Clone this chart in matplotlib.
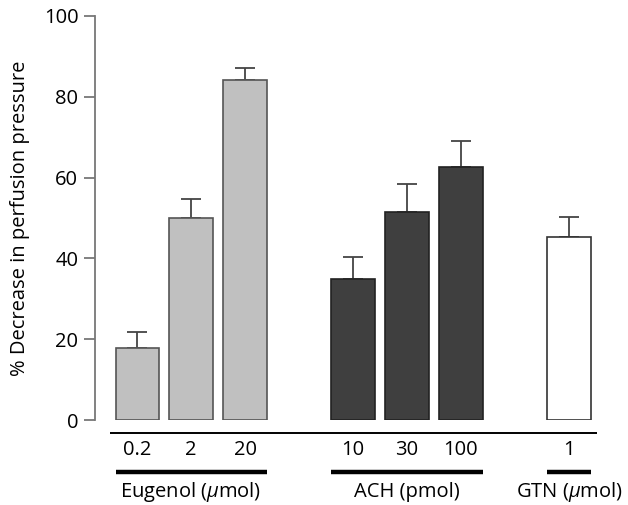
import matplotlib
matplotlib.use("Agg")
import matplotlib.pyplot as plt

plt.rcParams['font.family'] = ['Open Sans', 'DejaVu Sans']
plt.rcParams['mathtext.fontset'] = 'custom'
plt.rcParams['mathtext.it'] = 'Open Sans:italic'
plt.rcParams['mathtext.rm'] = 'Open Sans'

groups = ["Eugenol ($\\mu$mol)", "ACH (pmol)", "GTN ($\\mu$mol)"]
dose_labels = [["0.2", "2", "20"], ["10", "30", "100"], ["1"]]
means = [[17.7, 50.1, 84.2], [34.8, 51.6, 62.7], [45.2]]
sems = [[4.2, 4.5, 3.0], [5.6, 6.8, 6.4], [5.1]]
colors = ["#c0c0c0", "#3f3f3f", "#ffffff"]
edgecolors = ["#555555", "#222222", "#333333"]
positions = [[0, 1, 2], [4, 5, 6], [8]]

FS = 14.5

fig = plt.figure(figsize=(6.28, 5.05), dpi=100)
ax = fig.add_axes([95/628, 85/505, 502/628, 404/505])

width = 0.8
for g in range(len(groups)):
    ax.errorbar(positions[g], means[g], yerr=[[0]*len(sems[g]), sems[g]],
                fmt='none', ecolor='#444444', elinewidth=1.3, capsize=7.5,
                capthick=1.3, zorder=1)
    ax.bar(positions[g], means[g], width=width, color=colors[g],
           edgecolor=edgecolors[g], linewidth=1.2, zorder=2)
    for p, lab in zip(positions[g], dose_labels[g]):
        ax.text(p, -7.4, lab, ha='center', va='center', fontsize=FS, clip_on=False)
    left = positions[g][0] - width/2
    right = positions[g][-1] + width/2
    ax.plot([left, right], [-12.8, -12.8], color='black', lw=3.2,
            clip_on=False, solid_capstyle='butt')
    ax.text((left + right)/2, -17.8, groups[g], ha='center', va='center',
            fontsize=FS, clip_on=False)

ax.set_xlim(-0.78, 8.52)
ax.set_ylim(0, 100)
ax.plot([-0.5, 8.52], [-3.3, -3.3], color='black', lw=1.4, clip_on=False,
        solid_capstyle='butt')

for s in ['top', 'right', 'bottom']:
    ax.spines[s].set_visible(False)
ax.spines['left'].set_color('#777777')
ax.spines['left'].set_linewidth(1.3)
ax.set_xticks([])
ax.set_yticks([0, 20, 40, 60, 80, 100])
ax.tick_params(axis='y', length=8, width=1.3, color='#777777', labelsize=FS, pad=4)
ax.set_ylabel("% Decrease in perfusion pressure", fontsize=FS, labelpad=10)

fig.savefig("out.png", dpi=100)
